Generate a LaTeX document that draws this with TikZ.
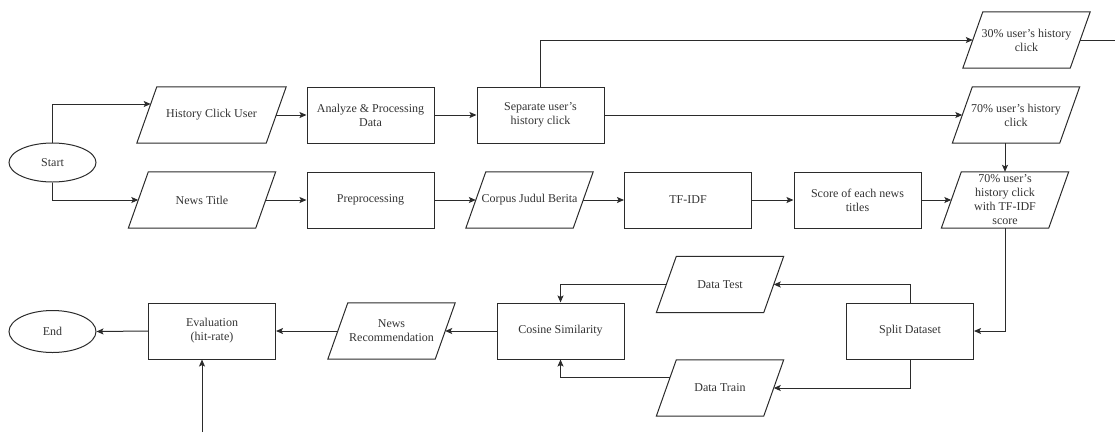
\documentclass[tikz,border=0pt]{standalone}
\usepackage{fontspec}
\setmainfont{Liberation Serif}
\usetikzlibrary{shapes.geometric,arrows.meta,calc}
\definecolor{linec}{HTML}{2B2B2B}
\definecolor{textc}{HTML}{333333}
\newcommand{\fsz}{\fontsize{12}{14}\selectfont}
\begin{document}
\begin{tikzpicture}[x=1pt,y=-1pt,
  box/.style={draw=linec, line width=1pt, minimum width=127, minimum height=56, inner sep=0, align=center, font=\fsz, text=textc},
  para/.style={minimum width=#1, minimum height=56, inner sep=0, align=center, font=\fsz, text=textc},
  term/.style={draw=linec, line width=1pt, ellipse, minimum width=87, minimum height=#1, inner sep=0, font=\fsz, text=textc},
  shapeline/.style={draw=linec, line width=1pt},
  arr/.style={draw=linec, line width=1pt, -{Stealth[length=7pt,width=6pt,inset=1.5pt]}},
  plain/.style={draw=linec, line width=1pt}]
\useasboundingbox (0,0) rectangle (1115,432);
% terminals
\node[term=39] (start) at (52.5,162.5) {Start};
\node[term=42] (end) at (52.5,331.5) {End};
% row 1
\node[para=129] (hcu) at (211.5,115) {History Click User};
\node[box] (apd) at (370.5,115) {Analyze \& Processing\\Data};
\node[box] (sep) at (540.5,115) {Separate user's\\history click};
\node[para=107] (h70) at (1016,115) {70\% user's history\\click};
\node[para=107] (h30) at (1026.5,40) {30\% user's history\\click};
% row 2
\node[para=127] (nt) at (202,200) {News Title};
\node[box] (pre) at (370.5,200) {Preprocessing};
\node[para=107] (corp) at (529.5,200) {Corpus Judul Berita};
\node[box] (tfidf) at (688,200) {TF-IDF};
\node[box] (score) at (857.5,200) {Score of each news\\titles};
\node[para=107] (s70) at (1005,200) {70\% user's\\history click\\with TF-IDF\\score};
% row 3
\node[box] (eval) at (212,331) {Evaluation\\(hit-rate)};
\node[para=107] (nr) at (391.5,331) {News\\Recommendation};
\node[box] (cos) at (560.5,331) {Cosine Similarity};
\node[para=107] (dtest) at (720,284.5) {Data Test};
\node[para=107] (dtrain) at (720,388) {Data Train};
\node[box] (split) at (910,331) {Split Dataset};
% parallelogram outlines
\foreach \n in {hcu,nt,h30,h70,corp,s70,nr,dtest,dtrain}{
  \draw[shapeline] ([xshift=-10]\n.south west) -- ([xshift=10]\n.north west) -- ([xshift=10]\n.north east) -- ([xshift=-10]\n.south east) -- cycle;
}
% free ends
\coordinate (edge30) at (1115,40);
\coordinate (bot) at (202,432);
% connectors
\draw[arr] (start.north) |- ([xshift=3.9,yshift=11]hcu.west);
\draw[arr] (start.south) |- (nt.west);
\draw[arr] (hcu.east) -- (apd.west);
\draw[arr] (apd.east) -- (sep.west);
\draw[arr] (sep.east) -- (h70.west);
\draw[arr] (sep.north) |- (h30.west);
\draw[plain] (h30.east) -- (edge30);
\draw[arr] (s70.north |- h70.south) -- (s70.north);
\draw[arr] (nt.east) -- (pre.west);
\draw[arr] (pre.east) -- (corp.west);
\draw[arr] (corp.east) -- (tfidf.west);
\draw[arr] (tfidf.east) -- (score.west);
\draw[arr] (score.east) -- (s70.west);
\draw[arr] (s70.south) |- (split.east);
\draw[arr] (split.north) |- (dtest.east);
\draw[arr] (split.south) |- (dtrain.east);
\draw[arr] (dtest.west) -| (cos.north);
\draw[arr] ([xshift=3.9,yshift=11]dtrain.west) -| (cos.south);
\draw[arr] (cos.west) -- (nr.east);
\draw[arr] (nr.west) -- (eval.east);
\draw[arr] (eval.west) -- (end.east);
\draw[arr] (bot) -- (bot |- eval.south);
\end{tikzpicture}
\end{document}
